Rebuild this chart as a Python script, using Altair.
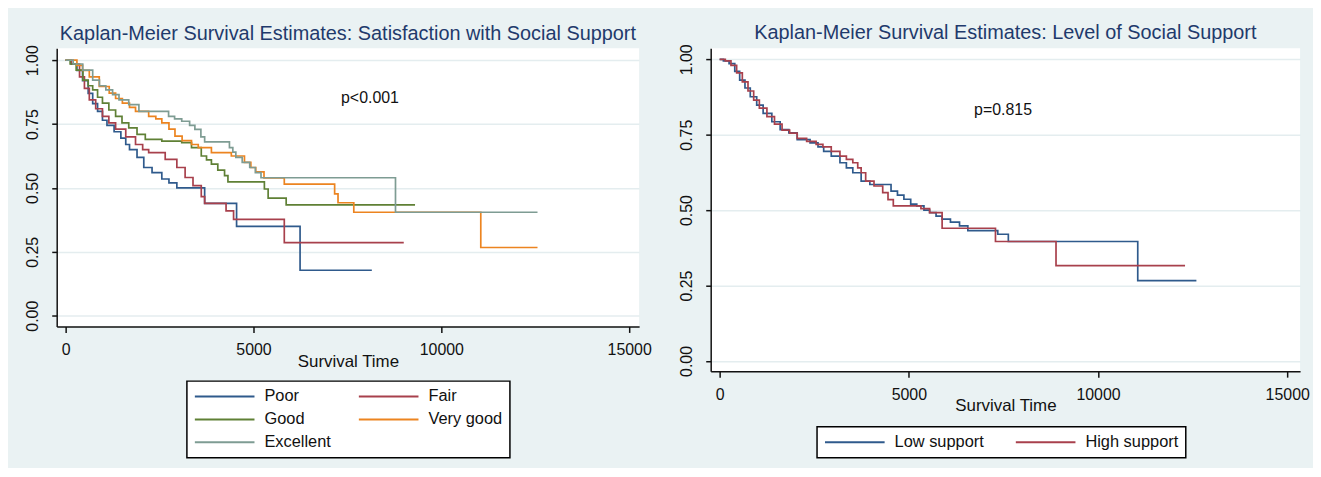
import altair as alt
import pandas as pd

# ---------------- data ----------------
sat_groups = ["Poor", "Fair", "Good", "Very good", "Excellent"]
sat_colors = ["#2f5a8c", "#a8404c", "#5f8035", "#ec8420", "#7e9c93"]

poor_t = [0, 150, 300, 450, 600, 720, 850, 980, 1100, 1290, 1470, 1600, 1700, 1900, 2080, 2300, 2560, 2750, 2960, 3700, 4550, 6240, 8150]
poor_s = [1.0, 0.985, 0.96, 0.92, 0.87, 0.83, 0.80, 0.765, 0.745, 0.72, 0.695, 0.67, 0.65, 0.62, 0.58, 0.56, 0.535, 0.52, 0.50, 0.44, 0.35, 0.178, 0.178]

fair_t = [0, 150, 370, 500, 630, 800, 980, 1150, 1330, 1600, 1860, 2050, 2210, 2650, 2960, 3180, 3390, 3610, 3700, 4270, 4470, 5820, 9000]
fair_s = [1.0, 0.985, 0.935, 0.89, 0.845, 0.81, 0.78, 0.755, 0.73, 0.70, 0.67, 0.65, 0.638, 0.612, 0.58, 0.541, 0.509, 0.466, 0.44, 0.41, 0.377, 0.286, 0.286]

good_t = [0, 120, 280, 460, 600, 720, 850, 980, 1150, 1330, 1500, 1680, 1900, 2120, 2560, 3090, 3350, 3610, 3750, 3880, 4050, 4230, 4320, 5290, 5390, 5870, 9300]
good_s = [1.0, 0.985, 0.961, 0.922, 0.90, 0.884, 0.855, 0.832, 0.805, 0.78, 0.755, 0.735, 0.71, 0.69, 0.683, 0.677, 0.658, 0.625, 0.61, 0.593, 0.57, 0.548, 0.524, 0.496, 0.46, 0.434, 0.434]

vgood_t = [0, 300, 450, 630, 895, 1160, 1330, 1510, 1700, 1860, 2210, 2400, 2560, 2750, 2910, 3100, 3350, 3530, 3880, 4410, 4760, 4930, 5060, 5280, 5820, 7160, 7250, 7670, 11050, 12560]
vgood_s = [1.0, 0.98, 0.96, 0.935, 0.897, 0.871, 0.85, 0.832, 0.815, 0.80, 0.78, 0.77, 0.755, 0.73, 0.703, 0.685, 0.67, 0.658, 0.638, 0.625, 0.60, 0.58, 0.563, 0.539, 0.515, 0.477, 0.442, 0.405, 0.267, 0.267]

exc_t = [0, 200, 455, 720, 900, 1070, 1250, 1420, 1680, 1950, 2740, 2900, 3090, 3300, 3440, 3600, 3700, 4360, 4450, 4530, 4700, 4900, 5050, 5200, 8780, 12560]
exc_s = [1.0, 0.985, 0.961, 0.922, 0.90, 0.884, 0.865, 0.845, 0.826, 0.80, 0.78, 0.77, 0.761, 0.745, 0.729, 0.70, 0.68, 0.658, 0.64, 0.62, 0.60, 0.58, 0.56, 0.54, 0.405, 0.405]

lvl_groups = ["Low support", "High support"]
lvl_colors = ["#2f5a8c", "#a8404c"]

low_t = [0, 100, 250, 400, 530, 670, 810, 980, 1150, 1380, 1600, 1830, 2050, 2390, 2600, 2750, 2950, 3180, 3350, 3520, 3740, 3970, 4530, 4700, 4870, 5050, 5210, 5400, 5550, 5720, 5880, 6100, 6340, 6560, 7350, 7630, 11050, 12600]
low_s = [1.0, 0.995, 0.986, 0.96, 0.931, 0.905, 0.876, 0.848, 0.821, 0.793, 0.767, 0.756, 0.734, 0.723, 0.71, 0.695, 0.679, 0.657, 0.64, 0.624, 0.596, 0.585, 0.563, 0.55, 0.536, 0.52, 0.514, 0.50, 0.492, 0.48, 0.47, 0.46, 0.448, 0.432, 0.42, 0.396, 0.266, 0.266]

high_t = [0, 150, 300, 450, 600, 750, 900, 1050, 1250, 1450, 1650, 1850, 2050, 2300, 2550, 2730, 2950, 3180, 3350, 3520, 3650, 3740, 3860, 4080, 4310, 4450, 4590, 5320, 5550, 5880, 7290, 8890, 12300]
high_s = [1.0, 0.995, 0.98, 0.955, 0.925, 0.895, 0.865, 0.838, 0.81, 0.785, 0.765, 0.755, 0.738, 0.728, 0.718, 0.71, 0.695, 0.679, 0.668, 0.657, 0.64, 0.624, 0.596, 0.58, 0.558, 0.535, 0.514, 0.505, 0.492, 0.44, 0.396, 0.316, 0.316]

y_ticks = [0, 0.25, 0.5, 0.75, 1.0]
x_ticks = [0, 5000, 10000, 15000]
p_left = "p<0.001"
p_right = "p=0.815"

# ---------------- tables ----------------
def frame(series):
    rows = []
    for name, ts, ss in series:
        for i, (t, s) in enumerate(zip(ts, ss)):
            rows.append({"group": name, "t": t, "s": s, "o": i})
    return pd.DataFrame(rows)

sat_df = frame([("Poor", poor_t, poor_s), ("Fair", fair_t, fair_s), ("Good", good_t, good_s),
                ("Very good", vgood_t, vgood_s), ("Excellent", exc_t, exc_s)])
lvl_df = frame([("Low support", low_t, low_s), ("High support", high_t, high_s)])

FONT = "Liberation Sans"
BG = "#EAF2F3"


def panel(df, groups, colors, title, ydom, xdom, w, h, ptext, px, py, legend):
    xs = alt.Scale(domain=xdom, nice=False, zero=False)
    ys = alt.Scale(domain=ydom, nice=False, zero=False)
    x = alt.X("t:Q", scale=xs,
              axis=alt.Axis(values=x_ticks, title="Survival Time", grid=False, format="d",
                            tickSize=6, labelPadding=9, titleY=35, titleBaseline="middle"))
    y = alt.Y("s:Q", scale=ys,
              axis=alt.Axis(values=y_ticks, format=".2f", title=None, grid=True,
                            labelAngle=270, labelAlign="center", labelBaseline="bottom",
                            tickSize=5, labelPadding=11))
    color = alt.Color("group:N", scale=alt.Scale(domain=groups, range=colors),
                      sort=groups, legend=legend)
    layers = []
    for g in groups:  # later groups drawn on top, as in the reference
        layers.append(
            alt.Chart(df).transform_filter(alt.datum.group == g)
            .mark_line(interpolate="step-after", strokeWidth=1.7)
            .encode(x=x, y=y, color=color, order="o:Q")
        )
    txt = alt.Chart(pd.DataFrame({"t": [px], "s": [py], "label": [ptext]})).mark_text(
        font=FONT, fontSize=16, color="#111").encode(
        x=alt.X("t:Q", scale=xs), y=alt.Y("s:Q", scale=ys), text="label:N")
    layers.append(txt)
    return alt.layer(*layers).properties(
        width=w, height=h,
        title=alt.Title(title, fontSize=20, font=FONT, fontWeight="normal", color="#1f3a6c",
                        anchor="middle", offset=1))


leg_common = dict(orient="none", title=None, columns=2, direction="horizontal",
                  symbolType="M-1,0H7", symbolSize=225, symbolStrokeWidth=2,
                  labelFont=FONT, labelFontSize=16.5, labelColor="#111", labelOffset=54,
                  strokeColor="black", fillColor="white")
leg_left = alt.Legend(legendX=131, legendY=335, columnPadding=24, rowPadding=6, padding=7, **leg_common)
leg_right = alt.Legend(legendX=107, legendY=381, columnPadding=28, padding=7, **leg_common)

left = panel(sat_df, sat_groups, sat_colors,
             "Kaplan-Meier Survival Estimates: Satisfaction with Social Support",
             [-0.042, 1.047], [-238, 15265], 586, 280, p_left, 8100, 0.85, leg_left)
right = panel(lvl_df, lvl_groups, lvl_colors,
              "Kaplan-Meier Survival Estimates: Level of Social Support",
              [-0.034, 1.037], [-236, 15340], 593, 325, p_right, 7490, 0.833, leg_right)

chart = alt.hconcat(left, right, spacing=72, bounds="flush").resolve_scale(
    color="independent", x="independent", y="independent"
).configure(
    background=BG, padding={"left": 16, "top": 13, "right": 3, "bottom": 8}
).configure_view(
    fill="white", strokeWidth=0
).configure_axis(
    domainColor="#111", domainWidth=1.5, tickColor="#111", tickWidth=1.5,
    labelFont=FONT, labelFontSize=16, labelColor="#111",
    titleFont=FONT, titleFontSize=17, titleColor="#111", titleFontWeight="normal",
    gridColor="#E4EDEF", gridWidth=1.5
).configure_legend(strokeWidth=1.5)

chart.save("out.html", embed_options={"renderer": "svg", "actions": False})
